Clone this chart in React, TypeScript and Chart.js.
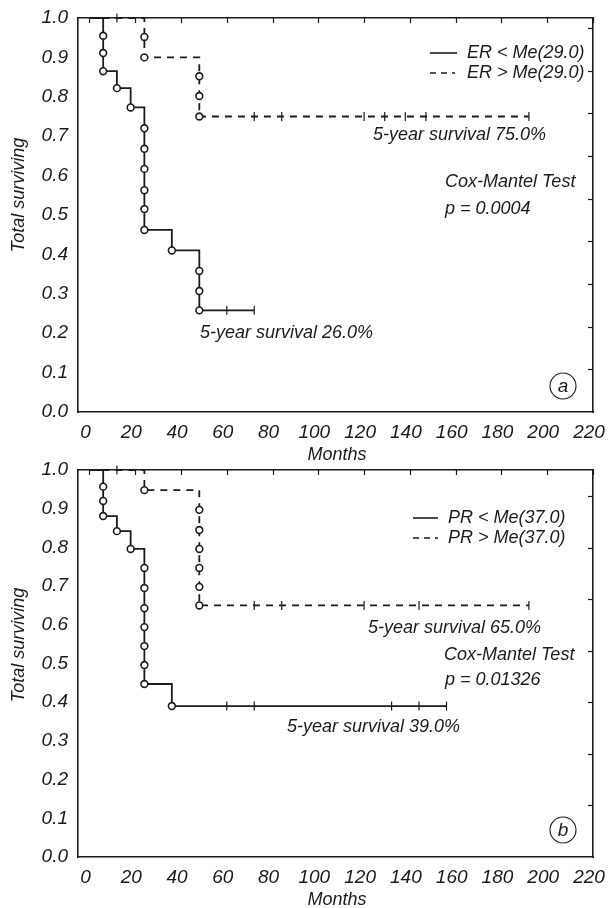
import React, { useEffect, useRef } from 'react';
import { Chart, registerables } from 'chart.js';

Chart.register(...registerables);

const INK = '#1b1b1b';
const FONT_FAMILY = "'Liberation Sans', Arial, Helvetica, sans-serif";

// ---- Axis ticks ----
const monthTicks = [0, 20, 40, 60, 80, 100, 120, 140, 160, 180, 200, 220];
const survivalTicks = [0, 0.1, 0.2, 0.3, 0.4, 0.5, 0.6, 0.7, 0.8, 0.9, 1.0];
const rightTicksA = [1, 2, 3, 4, 5, 6, 7, 8, 9];
const rightTicksB = [1, 2, 3, 4, 5, 6, 7];

// ---- Panel (a): ER ----
const erLowLabel = 'ER < Me(29.0)';
const erHighLabel = 'ER > Me(29.0)';
const erLowStepMonths = [0, 6, 12, 18, 24, 36, 48, 72];
const erLowStepSurv = [1.0, 0.865, 0.822, 0.773, 0.462, 0.41, 0.258, 0.258];
const erLowDeathMonths = [6, 6, 6, 12, 18, 24, 24, 24, 24, 24, 24, 36, 48, 48, 48];
const erLowDeathSurv = [0.955, 0.911, 0.865, 0.822, 0.773, 0.72, 0.668, 0.617, 0.563, 0.515, 0.462, 0.41, 0.358, 0.307, 0.258];
const erLowCensorMonths = [60, 72];
const erLowCensorSurv = [0.258, 0.258];

const erHighStepMonths = [0, 24, 48, 192];
const erHighStepSurv = [1.0, 0.9, 0.75, 0.75];
const erHighDeathMonths = [24, 24, 48, 48, 48];
const erHighDeathSurv = [0.952, 0.9, 0.852, 0.802, 0.75];
const erHighCensorMonths = [12, 72, 84, 120, 129, 138, 147, 192];
const erHighCensorSurv = [1.0, 0.75, 0.75, 0.75, 0.75, 0.75, 0.75, 0.75];

const erHighNote = '5-year survival 75.0%';
const erLowNote = '5-year survival 26.0%';
const erTestName = 'Cox-Mantel Test';
const erTestP = 'p = 0.0004';

// ---- Panel (b): PR ----
const prLowLabel = 'PR < Me(37.0)';
const prHighLabel = 'PR > Me(37.0)';
const prLowStepMonths = [0, 6, 12, 18, 24, 36, 156];
const prLowStepSurv = [1.0, 0.881, 0.842, 0.796, 0.447, 0.39, 0.39];
const prLowDeathMonths = [6, 6, 6, 12, 18, 24, 24, 24, 24, 24, 24, 24, 36];
const prLowDeathSurv = [0.957, 0.92, 0.881, 0.842, 0.796, 0.747, 0.695, 0.643, 0.594, 0.545, 0.496, 0.447, 0.39];
const prLowCensorMonths = [60, 72, 132, 144, 156];
const prLowCensorSurv = [0.39, 0.39, 0.39, 0.39, 0.39];

const prHighStepMonths = [0, 24, 48, 192];
const prHighStepSurv = [1.0, 0.948, 0.65, 0.65];
const prHighDeathMonths = [24, 48, 48, 48, 48, 48, 48];
const prHighDeathSurv = [0.948, 0.897, 0.845, 0.796, 0.747, 0.698, 0.65];
const prHighCensorMonths = [12, 72, 84, 120, 144, 192];
const prHighCensorSurv = [1.0, 0.65, 0.65, 0.65, 0.65, 0.65];

const prHighNote = '5-year survival 65.0%';
const prLowNote = '5-year survival 39.0%';
const prTestName = 'Cox-Mantel Test';
const prTestP = 'p = 0.01326';

const yTitleText = 'Total surviving';
const xTitleText = 'Months';

type Curve = {
  stepMonths: number[];
  stepSurv: number[];
  deathMonths: number[];
  deathSurv: number[];
  censorMonths: number[];
  censorSurv: number[];
  dashed: boolean;
};

type Panel = {
  top: number;
  height: number;
  xAxisHeight: number;
  topAxisHeight: number;
  rightMax: number;
  rightTicks: number[];
  curves: Curve[];
  legend: { labels: string[]; sampleX1: number; sampleX2: number; dashX2: number; textX: number; y1: number; y2: number };
  notes: { text: string; x: number; y: number }[];
  badge: { text: string; x: number; y: number };
  yTitle: { x: number; y: number };
  xTitle: { x: number; y: number };
};

const panelA: Panel = {
  top: 0,
  height: 470,
  xAxisHeight: 58,
  topAxisHeight: 18,
  rightMax: 9.23,
  rightTicks: rightTicksA,
  curves: [
    { stepMonths: erLowStepMonths, stepSurv: erLowStepSurv, deathMonths: erLowDeathMonths, deathSurv: erLowDeathSurv, censorMonths: erLowCensorMonths, censorSurv: erLowCensorSurv, dashed: false },
    { stepMonths: erHighStepMonths, stepSurv: erHighStepSurv, deathMonths: erHighDeathMonths, deathSurv: erHighDeathSurv, censorMonths: erHighCensorMonths, censorSurv: erHighCensorSurv, dashed: true },
  ],
  legend: { labels: [erLowLabel, erHighLabel], sampleX1: 430, sampleX2: 457, dashX2: 455, textX: 467, y1: 53, y2: 73 },
  notes: [
    { text: erHighNote, x: 373, y: 135 },
    { text: erTestName, x: 445, y: 182 },
    { text: erTestP, x: 445, y: 209 },
    { text: erLowNote, x: 200, y: 333 },
  ],
  badge: { text: 'a', x: 563, y: 386 },
  yTitle: { x: 19, y: 195 },
  xTitle: { x: 337, y: 455 },
};

const panelB: Panel = {
  top: 454,
  height: 454,
  xAxisHeight: 51,
  topAxisHeight: 16,
  rightMax: 7.51,
  rightTicks: rightTicksB,
  curves: [
    { stepMonths: prLowStepMonths, stepSurv: prLowStepSurv, deathMonths: prLowDeathMonths, deathSurv: prLowDeathSurv, censorMonths: prLowCensorMonths, censorSurv: prLowCensorSurv, dashed: false },
    { stepMonths: prHighStepMonths, stepSurv: prHighStepSurv, deathMonths: prHighDeathMonths, deathSurv: prHighDeathSurv, censorMonths: prHighCensorMonths, censorSurv: prHighCensorSurv, dashed: true },
  ],
  legend: { labels: [prLowLabel, prHighLabel], sampleX1: 413, sampleX2: 438, dashX2: 438, textX: 448, y1: 64, y2: 84 },
  notes: [
    { text: prHighNote, x: 368, y: 174 },
    { text: prTestName, x: 444, y: 201 },
    { text: prTestP, x: 445, y: 226 },
    { text: prLowNote, x: 287, y: 273 },
  ],
  badge: { text: 'b', x: 563, y: 376 },
  yTitle: { x: 19, y: 191 },
  xTitle: { x: 337, y: 446 },
};

function pts(xs: number[], ys: number[]) {
  return xs.map((x, i) => ({ x, y: ys[i] }));
}

const tickFont = { family: FONT_FAMILY, size: 19, style: 'italic' as const };

function zeroPad(s: any) {
  s.paddingLeft = 0;
  s.paddingRight = 0;
  s.paddingTop = 0;
  s.paddingBottom = 0;
}

function buildChart(canvas: HTMLCanvasElement, panel: Panel) {
  const datasets: any[] = [];
  panel.curves.forEach((c) => {
    datasets.push({
      type: 'line',
      data: pts(c.stepMonths, c.stepSurv),
      stepped: true,
      borderColor: INK,
      borderWidth: 1.8,
      borderDash: c.dashed ? [7, 6] : [],
      pointRadius: 0,
      fill: false,
      clip: false,
      order: 3,
    });
    datasets.push({
      type: 'scatter',
      data: pts(c.censorMonths, c.censorSurv),
      pointStyle: 'line',
      rotation: 90,
      pointRadius: 4.5,
      borderColor: INK,
      borderWidth: 1.2,
      clip: false,
      order: 2,
    });
    datasets.push({
      type: 'scatter',
      data: pts(c.deathMonths, c.deathSurv),
      pointStyle: 'circle',
      pointRadius: 3.4,
      backgroundColor: '#ffffff',
      borderColor: INK,
      borderWidth: 1.6,
      clip: false,
      order: 1,
    });
  });

  const decor = {
    id: 'kmDecor',
    afterDraw(chart: any) {
      const { ctx, chartArea, scales } = chart;
      ctx.save();
      ctx.strokeStyle = INK;
      ctx.fillStyle = INK;
      // inward ticks on top border
      ctx.lineWidth = 1.2;
      monthTicks.forEach((m) => {
        const x = Math.round(scales.x.getPixelForValue(m)) + 0.5;
        ctx.beginPath();
        ctx.moveTo(x, chartArea.top);
        ctx.lineTo(x, chartArea.top + 5);
        ctx.stroke();
      });
      // inward ticks on right border
      panel.rightTicks.forEach((v) => {
        const y = Math.round(scales.yRight.getPixelForValue(v)) + 0.5;
        ctx.beginPath();
        ctx.moveTo(chartArea.right - 5, y);
        ctx.lineTo(chartArea.right, y);
        ctx.stroke();
      });
      // legend
      const lg = panel.legend;
      ctx.lineWidth = 1.6;
      ctx.setLineDash([]);
      ctx.beginPath();
      ctx.moveTo(lg.sampleX1, lg.y1);
      ctx.lineTo(lg.sampleX2, lg.y1);
      ctx.stroke();
      ctx.setLineDash([6, 5]);
      ctx.beginPath();
      ctx.moveTo(lg.sampleX1, lg.y2);
      ctx.lineTo(lg.dashX2, lg.y2);
      ctx.stroke();
      ctx.setLineDash([]);
      ctx.font = `italic 18px ${FONT_FAMILY}`;
      ctx.textAlign = 'left';
      ctx.textBaseline = 'middle';
      ctx.fillText(lg.labels[0], lg.textX, lg.y1);
      ctx.fillText(lg.labels[1], lg.textX, lg.y2);
      // notes
      panel.notes.forEach((n) => ctx.fillText(n.text, n.x, n.y));
      // badge
      ctx.lineWidth = 1.1;
      ctx.beginPath();
      ctx.arc(panel.badge.x, panel.badge.y, 13, 0, Math.PI * 2);
      ctx.stroke();
      ctx.textAlign = 'center';
      ctx.font = `italic 19px ${FONT_FAMILY}`;
      ctx.fillText(panel.badge.text, panel.badge.x, panel.badge.y + 1);
      // axis titles
      ctx.font = `italic 18px ${FONT_FAMILY}`;
      ctx.fillText(xTitleText, panel.xTitle.x, panel.xTitle.y);
      ctx.save();
      ctx.translate(panel.yTitle.x, panel.yTitle.y);
      ctx.rotate(-Math.PI / 2);
      ctx.fillText(yTitleText, 0, 0);
      ctx.restore();
      ctx.restore();
    },
  };

  return new Chart(canvas, {
    type: 'scatter',
    data: { datasets },
    plugins: [decor],
    options: {
      animation: false,
      responsive: false,
      maintainAspectRatio: false,
      devicePixelRatio: 1,
      layout: { padding: 0 },
      plugins: { legend: { display: false }, tooltip: { enabled: false }, title: { display: false } },
      scales: {
        x: {
          type: 'linear',
          position: 'bottom',
          min: -5,
          max: 220,
          afterBuildTicks: (s: any) => {
            s.ticks = monthTicks.map((v) => ({ value: v }));
          },
          afterFit: (s: any) => {
            s.height = panel.xAxisHeight;
            zeroPad(s);
          },
          ticks: {
            font: tickFont,
            color: INK,
            padding: 9,
            labelOffset: -4,
            maxRotation: 0,
            autoSkip: false,
            callback: (v: any) => String(v),
          },
          grid: { display: false, drawTicks: false },
          border: { display: true, color: INK, width: 1.6 },
        },
        xTop: {
          type: 'linear',
          position: 'top',
          min: -5,
          max: 220,
          afterFit: (s: any) => {
            s.height = panel.topAxisHeight;
            zeroPad(s);
          },
          ticks: { display: false },
          grid: { display: false, drawTicks: false },
          border: { display: true, color: INK, width: 1.6 },
        },
        y: {
          type: 'linear',
          position: 'left',
          min: 0,
          max: 1,
          afterBuildTicks: (s: any) => {
            s.ticks = survivalTicks.map((v) => ({ value: v }));
          },
          afterFit: (s: any) => {
            s.width = 78;
            zeroPad(s);
          },
          ticks: {
            font: tickFont,
            color: INK,
            padding: 10,
            callback: (v: any) => Number(v).toFixed(1),
          },
          grid: { display: false, drawTicks: false },
          border: { display: true, color: INK, width: 1.6 },
        },
        yRight: {
          type: 'linear',
          position: 'right',
          min: 0,
          max: panel.rightMax,
          afterBuildTicks: (s: any) => {
            s.ticks = panel.rightTicks.map((v) => ({ value: v }));
          },
          afterFit: (s: any) => {
            s.width = 15;
            zeroPad(s);
          },
          ticks: { display: false },
          grid: { display: false, drawTicks: false },
          border: { display: true, color: INK, width: 1.6 },
        },
      },
    } as any,
  });
}

function KMPanel({ panel }: { panel: Panel }) {
  const ref = useRef<HTMLCanvasElement | null>(null);
  useEffect(() => {
    if (!ref.current) return;
    const chart = buildChart(ref.current, panel);
    return () => chart.destroy();
  }, [panel]);
  return (
    <canvas
      ref={ref}
      width={608}
      height={panel.height}
      style={{ position: 'absolute', left: 0, top: panel.top, width: 608, height: panel.height }}
    />
  );
}

export default function App() {
  return (
    <div style={{ position: 'fixed', left: 0, top: 0, width: 608, height: 908, background: '#ffffff', overflow: 'hidden' }}>
      <KMPanel panel={panelA} />
      <KMPanel panel={panelB} />
    </div>
  );
}
